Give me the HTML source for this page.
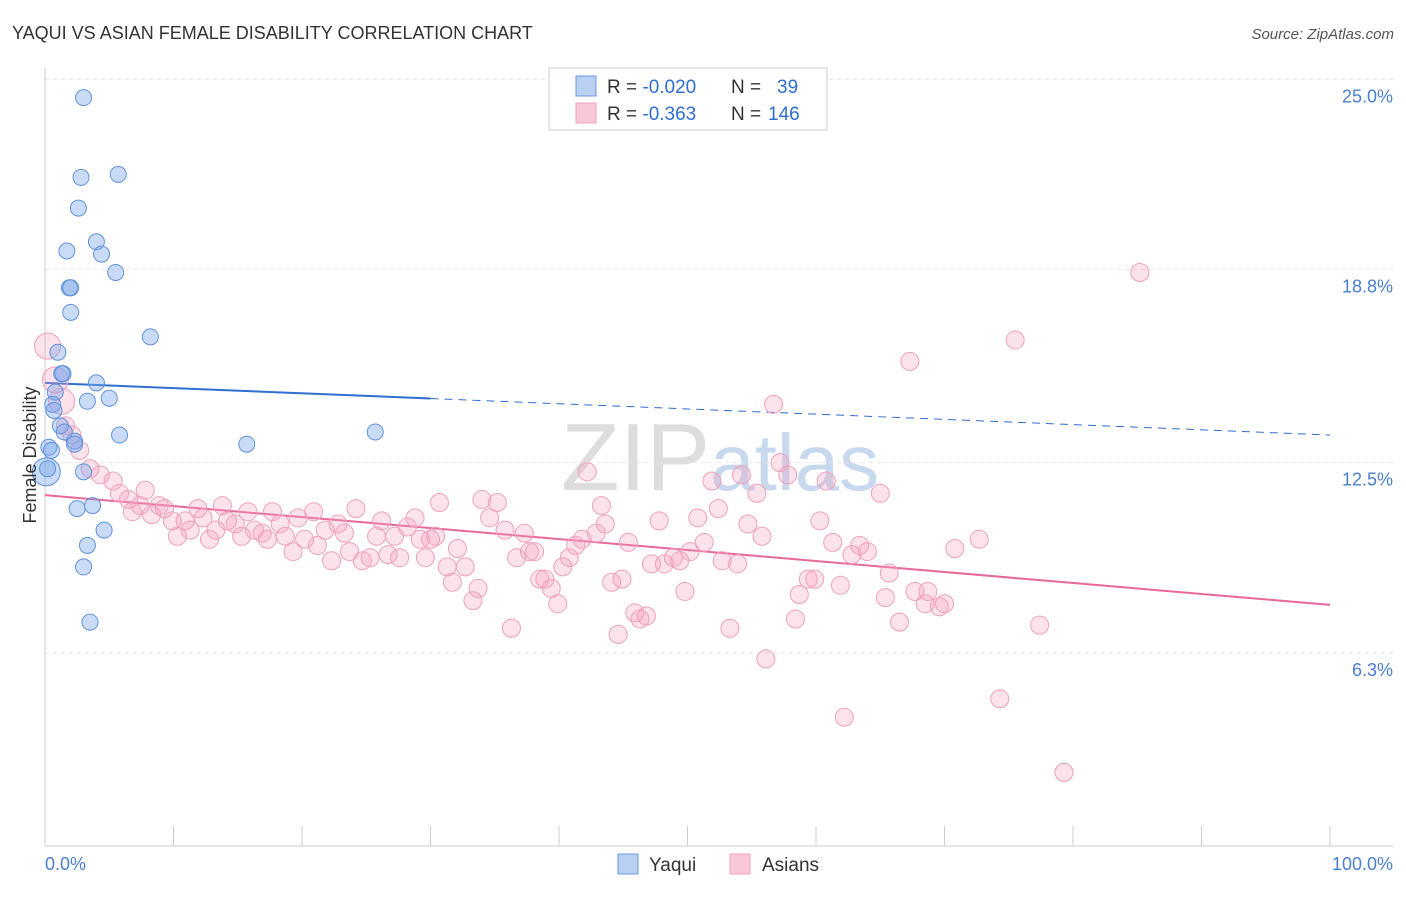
<!DOCTYPE html>
<html><head><meta charset="utf-8"><style>
body{margin:0;background:#fff;font-family:"Liberation Sans",sans-serif;}
svg text{font-family:"Liberation Sans",sans-serif;}
</style></head><body>
<svg id="chart" width="1406" height="892" viewBox="0 0 1406 892" xmlns="http://www.w3.org/2000/svg">
<text x="12" y="39" font-size="18" fill="#333">YAQUI VS ASIAN FEMALE DISABILITY CORRELATION CHART</text>
<text x="1394" y="39" font-size="15" fill="#555" text-anchor="end" font-style="italic">Source: ZipAtlas.com</text>
<text x="720" y="490" font-size="96" fill="#ddd" text-anchor="middle" font-family="Liberation Serif">ZIP<tspan fill="#c8d8ee" font-family="Liberation Sans" font-size="80">atlas</tspan></text>
<g id="grid"></g>
<g id="axes"></g>
<g id="trends"></g>
<g id="pts"></g>
<text x="36" y="455" font-size="18" fill="#333" text-anchor="middle" transform="rotate(-90 36 455)">Female Disability</text>
<text x="45" y="870" font-size="18" fill="#4a7fd0">0.0%</text>
<text x="1393" y="870" font-size="18" fill="#4a7fd0" text-anchor="end">100.0%</text>
<g>
<rect x="549" y="68" width="278" height="62" fill="#fff" stroke="#ccc"/>
<rect x="576" y="76" width="20" height="20" fill="#b9d0f2" stroke="#6a9be0"/>
<rect x="576" y="103" width="20" height="20" fill="#f8c8d8" stroke="#f0a0bc"/>
<text x="607" y="93" font-size="19" fill="#333">R = <tspan fill="#2e6fd0">-0.020</tspan><tspan x="731">N = </tspan><tspan x="777" fill="#2e6fd0">39</tspan></text>
<text x="607" y="120" font-size="19" fill="#333">R = <tspan fill="#2e6fd0"> -0.363</tspan><tspan x="731">N = </tspan><tspan x="768" fill="#2e6fd0">146</tspan></text>
</g>
<g>
<rect x="618" y="854" width="20" height="20" fill="#b9d0f2" stroke="#6a9be0"/>
<text x="649" y="871" font-size="19" fill="#333">Yaqui</text>
<rect x="730" y="854" width="20" height="20" fill="#f8c8d8" stroke="#f0a0bc"/>
<text x="762" y="871" font-size="19" fill="#333">Asians</text>
</g>
</svg>
<script>
const yTicks=[25.0,18.8,12.5,6.3];
const yTickLabels=["25.0%","18.8%","12.5%","6.3%"];
const xTicks=[0,10,20,30,40,50,60,70,80,90,100];
const yaquiX=[3.0,2.8,5.7,2.6,4.0,1.7,4.4,5.5,1.9,2.0,2.0,8.2,1.0,1.4,4.0,0.8,5.0,0.6,3.3,0.7,1.2,5.8,0.3,0.5,2.3,2.3,15.7,25.7,3.0,0.1,2.5,3.7,4.6,3.3,3.0,3.5,1.3,1.5,0.2];
const yaquiY=[24.4,21.8,21.9,20.8,19.7,19.4,19.3,18.7,18.2,18.2,17.4,16.6,16.1,15.4,15.1,14.8,14.6,14.4,14.5,14.2,13.7,13.4,13.0,12.9,13.2,13.1,13.1,13.5,12.2,12.2,11.0,11.1,10.3,9.8,9.1,7.3,15.4,13.5,12.3];
const asianX=[0.2,0.8,1.3,1.6,2.1,2.7,3.5,4.3,5.3,5.8,6.5,6.8,7.4,7.8,8.3,8.9,9.3,9.9,10.3,10.9,11.3,11.9,12.3,12.8,13.3,13.8,14.2,14.8,15.3,15.8,16.3,16.9,17.3,17.7,18.3,18.7,19.3,19.7,20.2,20.9,21.2,21.8,22.3,22.8,23.3,23.7,24.2,24.7,25.3,25.8,26.2,26.7,27.2,27.6,28.2,28.8,29.2,29.6,30.0,30.4,30.7,31.3,31.7,32.1,32.7,33.3,33.7,34.0,34.6,35.2,35.8,36.3,36.7,37.3,37.7,38.1,38.5,38.9,39.4,39.9,40.3,40.8,41.3,41.8,42.2,42.9,43.3,43.6,44.1,44.6,44.9,45.4,45.9,46.3,46.8,47.2,47.8,48.2,48.9,49.4,49.8,50.2,50.8,51.3,51.9,52.4,52.7,53.3,53.9,54.2,54.7,55.4,55.8,56.1,56.7,57.2,57.8,58.4,58.7,59.4,59.9,60.3,60.8,61.3,61.9,62.2,62.8,63.4,64.0,65.0,65.4,65.7,66.5,67.3,67.7,68.5,68.7,69.6,70.0,70.8,72.7,74.3,75.5,77.4,79.3,85.2];
const asianY=[16.3,15.2,14.5,13.7,13.4,12.9,12.3,12.1,11.9,11.5,11.3,10.9,11.1,11.6,10.8,11.1,11.0,10.6,10.1,10.6,10.3,11.0,10.7,10.0,10.3,11.1,10.6,10.5,10.1,10.9,10.3,10.2,10.0,10.9,10.5,10.1,9.6,10.7,10.0,10.9,9.8,10.3,9.3,10.5,10.2,9.6,11.0,9.3,9.4,10.1,10.6,9.5,10.1,9.4,10.4,10.7,10.0,9.4,10.0,10.1,11.2,9.1,8.6,9.7,9.1,8.0,8.4,11.3,10.7,11.2,10.3,7.1,9.4,10.2,9.6,9.6,8.7,8.7,8.4,7.9,9.1,9.4,9.8,10.0,12.2,10.2,11.1,10.5,8.6,6.9,8.7,9.9,7.6,7.4,7.5,9.2,10.6,9.2,9.4,9.3,8.3,9.6,10.7,9.9,11.9,11.0,9.3,7.1,9.2,12.1,10.5,11.5,10.1,6.1,14.4,12.5,12.1,7.4,8.2,8.7,8.7,10.6,11.9,9.9,8.5,4.2,9.5,9.8,9.6,11.5,8.1,8.9,7.3,15.8,8.3,7.9,8.3,7.8,7.9,9.7,10.0,4.8,16.5,7.2,2.4,18.7];
const yaquiTrend=[15.1,13.4];
const asianTrend=[11.44,7.86];
const NS="http://www.w3.org/2000/svg";
const xs=v=>45+v*12.85;
const ys=v=>846-v*30.67;
function mk(tag,parent,attrs){const e=document.createElementNS(NS,tag);for(const k in attrs)e.setAttribute(k,attrs[k]);parent.appendChild(e);return e;}
const grid=document.getElementById('grid');
yTicks.forEach((t,i)=>{
 const l=mk('line',grid,{x1:45,x2:1393,y1:ys(t),y2:ys(t),stroke:'#e4e4e4','stroke-dasharray':'4,4'});
 
 
 const tx=mk('text',grid,{x:1393,y:ys(t)+23,'font-size':18,fill:'#4a7fd0','text-anchor':'end'});
 tx.textContent=yTickLabels[i];
 
 
});
const axes=document.getElementById('axes');
mk('line',axes,{x1:45,x2:45,y1:68,y2:846,stroke:'#ccc'});
mk('line',axes,{x1:45,x2:1393,y1:846,y2:846,stroke:'#ccc'});
xTicks.forEach(t=>{
 const l=mk('line',axes,{x1:xs(t),x2:xs(t),y1:826,y2:846,stroke:'#ccc'});
 
 
});
const tr=document.getElementById('trends');
const bl=mk('line',tr,{x1:xs(0),y1:ys(yaquiTrend[0]),x2:xs(30),y2:ys(yaquiTrend[0]+(yaquiTrend[1]-yaquiTrend[0])*0.3),stroke:'#2e6fd0','stroke-width':2});


const bd=mk('line',tr,{x1:xs(30),y1:ys(yaquiTrend[0]+(yaquiTrend[1]-yaquiTrend[0])*0.3),x2:xs(100),y2:ys(yaquiTrend[1]),stroke:'#2e6fd0','stroke-width':1,'stroke-dasharray':'8,6'});


const pl=mk('line',tr,{x1:xs(0),y1:ys(asianTrend[0]),x2:xs(100),y2:ys(asianTrend[1]),stroke:'#e8689a','stroke-width':2});


const pts=document.getElementById('pts');
asianX.forEach((x,i)=>{
 const r=(i<3)?13:9;
 const c=mk('circle',pts,{cx:xs(x),cy:ys(asianY[i]),r:r,fill:'rgba(244,160,190,0.3)',stroke:'#f0a0bc','stroke-width':1});
 
 
});
yaquiX.forEach((x,i)=>{
 const r=(i==29)?14:8;
 const c=mk('circle',pts,{cx:xs(x),cy:ys(yaquiY[i]),r:r,fill:'rgba(120,165,235,0.4)',stroke:'#5f93dc','stroke-width':1});
 
 
});
</script>
</body></html>
